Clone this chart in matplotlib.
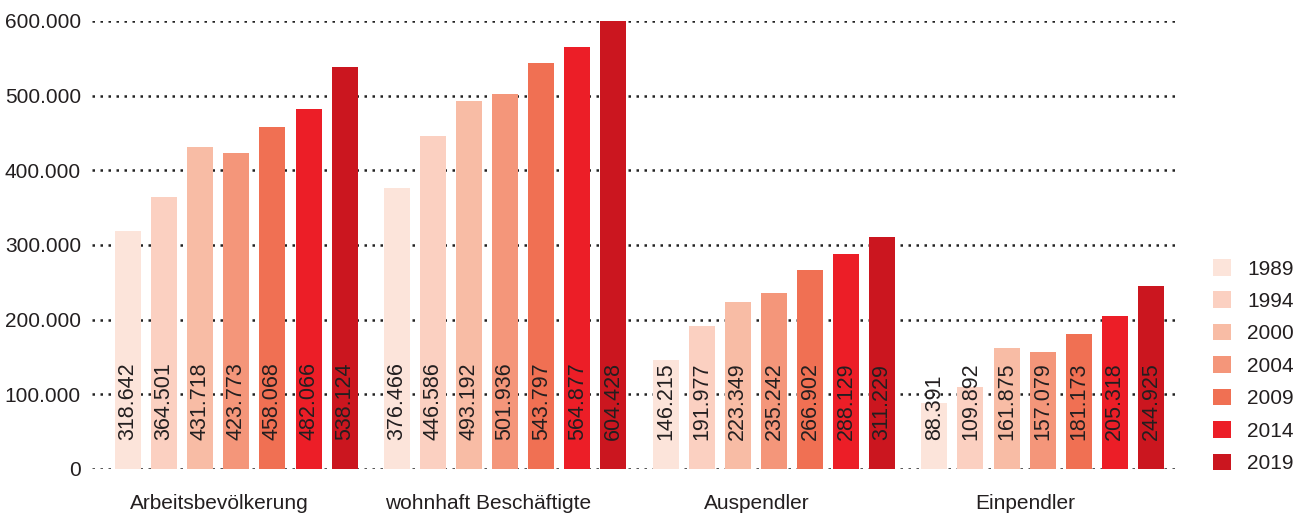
import matplotlib
matplotlib.use("Agg")
import matplotlib.pyplot as plt
import numpy as np

categories = ["Arbeitsbevölkerung", "wohnhaft Beschäftigte", "Auspendler", "Einpendler"]
years = ["1989", "1994", "2000", "2004", "2009", "2014", "2019"]
v1989 = [318642, 376466, 146215, 88391]
v1994 = [364501, 446586, 191977, 109892]
v2000 = [431718, 493192, 223349, 161875]
v2004 = [423773, 501936, 235242, 157079]
v2009 = [458068, 543797, 266902, 181173]
v2014 = [482066, 564877, 288129, 205318]
v2019 = [538124, 604428, 311229, 244925]
series = [v1989, v1994, v2000, v2004, v2009, v2014, v2019]
colors = ["#FCE4DA", "#FBD0C1", "#F8BCA5", "#F4967A", "#F07053", "#EC1E27", "#CB161F"]
yticks = [0, 100000, 200000, 300000, 400000, 500000, 600000]
ytick_labels = ["0", "100.000", "200.000", "300.000", "400.000", "500.000", "600.000"]

plt.rcParams['font.family'] = ['Liberation Sans', 'DejaVu Sans']
txt_color = "#231F20"

fig = plt.figure(figsize=(12.98, 5.14), dpi=100)
ax = fig.add_axes([92/1298, 45/514, (1180-92)/1298, 448/514])

x = np.arange(len(categories))
step = 36/268
width = 26/268
for j, (vals, c, yr) in enumerate(zip(series, colors, years)):
    pos = x + (j - 3) * step
    ax.bar(pos, vals, width=width, color=c, label=yr, zorder=3)
    for p, v in zip(pos, vals):
        s = f"{v:,}".replace(",", ".")
        ax.text(p, 39000, s, rotation=90, ha="center", va="bottom",
                fontsize=15.5, color=txt_color, zorder=4)

ax.set_xlim(-0.537, 3.511)
ax.set_ylim(0, 600000)
ax.set_yticks(yticks)
ax.set_yticklabels(ytick_labels, fontsize=15, color=txt_color)
ax.set_xticks(x - 17/268)
ax.set_xticklabels(categories, fontsize=15, color=txt_color)
ax.tick_params(axis="both", length=0)
ax.tick_params(axis="y", pad=8)
ax.tick_params(axis="x", pad=18)
for sp in ax.spines.values():
    sp.set_visible(False)
for yt in yticks:
    ax.axhline(yt, color="#222222", lw=1.8, linestyle=(0, (1, 2.2)), zorder=1)

leg = ax.legend(loc="upper left", bbox_to_anchor=(1213/1298, 1 - 259/514), bbox_transform=fig.transFigure,
                frameon=False, fontsize=15, handlelength=0.85, handleheight=0.85,
                labelspacing=0.62, handletextpad=0.8, borderaxespad=0, borderpad=0)
for t in leg.get_texts():
    t.set_color(txt_color)

fig.savefig("out.png", dpi=100)
